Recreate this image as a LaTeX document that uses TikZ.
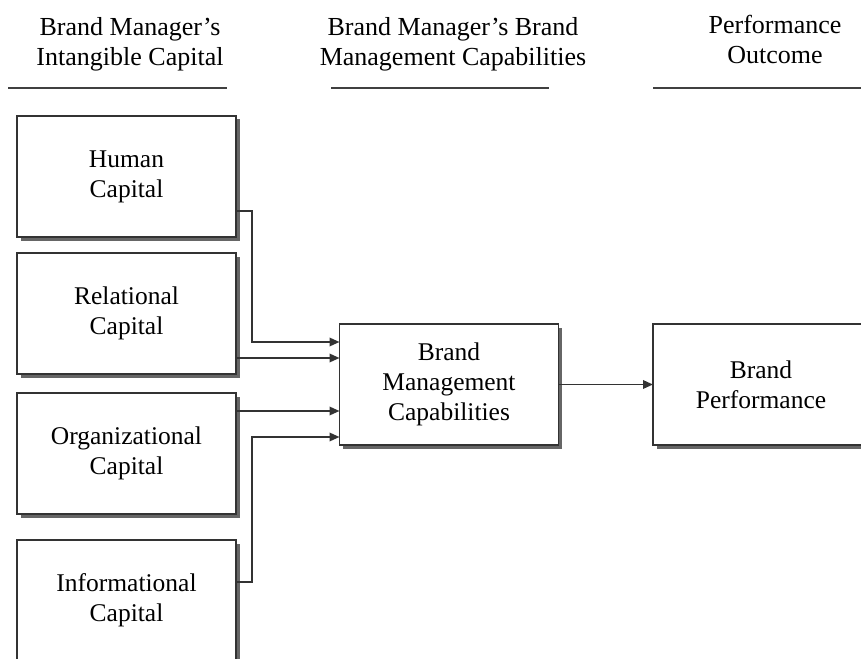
\documentclass[tikz,border=0pt]{standalone}
\usepackage{fontspec}
\setmainfont{Liberation Serif}
\usetikzlibrary{arrows.meta, positioning, shadows}

\begin{document}
\begin{tikzpicture}[
	x = 1pt, y = -1pt, % pixel units, y runs downwards
	> = {Triangle[length=10pt, width=8.5pt]}, % arrow head style
	node distance = 16pt % gap between stacked boxes
	]
	
	\tikzset{
	capbox/.style = {
		draw = black!80,
		line width = 1.6pt,
		fill = white,
		align = center,
		inner sep = 0pt,
		outer sep = 0pt,
		minimum width = 219pt,
		minimum height = 121pt,
		font = \fontsize{25.5}{30}\selectfont,
		drop shadow = {shadow xshift=3.5pt, shadow yshift=-3.5pt, fill=black!60, opacity=1}
	},
	heading/.style = {align = center, font = \fontsize{26}{30}\selectfont},
	rule/.style = {draw = black!75, line width = 1.8pt},
	link/.style = {->, draw = black!80, line width = 1.8pt}
	}
	
	\useasboundingbox (0,0) rectangle (861,658);
	\clip (0,0) rectangle (861,658);
	
	% column headings
	\node[heading] (h1) at (130,44) {Brand Manager’s\\Intangible Capital};
	\node[heading] (h2) at (453,44) {Brand Manager’s Brand\\Management Capabilities};
	\node[heading] (h3) at (775,39) {Performance\\Outcome};
	\draw[rule] (8,88) -- (227,88);
	\draw[rule] (331,88) -- (549,88);
	\draw[rule] (653,88) -- (861,88);
	
	% intangible capital
	\node[capbox] (hum) at (126.5,176.5) {Human\\Capital};
	\node[capbox] (rel) [below=of hum] {Relational\\Capital};
	\node[capbox] (org) [below=19pt of rel] {Organizational\\Capital};
	\node[capbox] (inf) [below=26pt of org] {Informational\\Capital};
	
	% capabilities and outcome
	\node[capbox] (bmc) at (449,384.5) {Brand\\Management\\Capabilities};
	\node[capbox, minimum width=216pt] (perf) [right=94.5pt of bmc] {Brand\\Performance};
	
	\coordinate (in1) at ([yshift=-18pt]bmc.north west);
	\coordinate (in2) at ([yshift=-34pt]bmc.north west);
	\coordinate (in3) at ([yshift=-87pt]bmc.north west);
	\coordinate (in4) at ([yshift=-113pt]bmc.north west);
	
	\draw[link] ([yshift=26pt]hum.south east) -- ++(16,0) |- (in1);
	\draw[link] (rel.east |- in2) -- (in2);
	\draw[link] (org.east |- in3) -- (in3);
	\draw[link] ([yshift=-42pt]inf.north east) -- ++(16,0) |- (in4);
	\draw[link] (bmc) -- (perf);
	
\end{tikzpicture}
\end{document}
